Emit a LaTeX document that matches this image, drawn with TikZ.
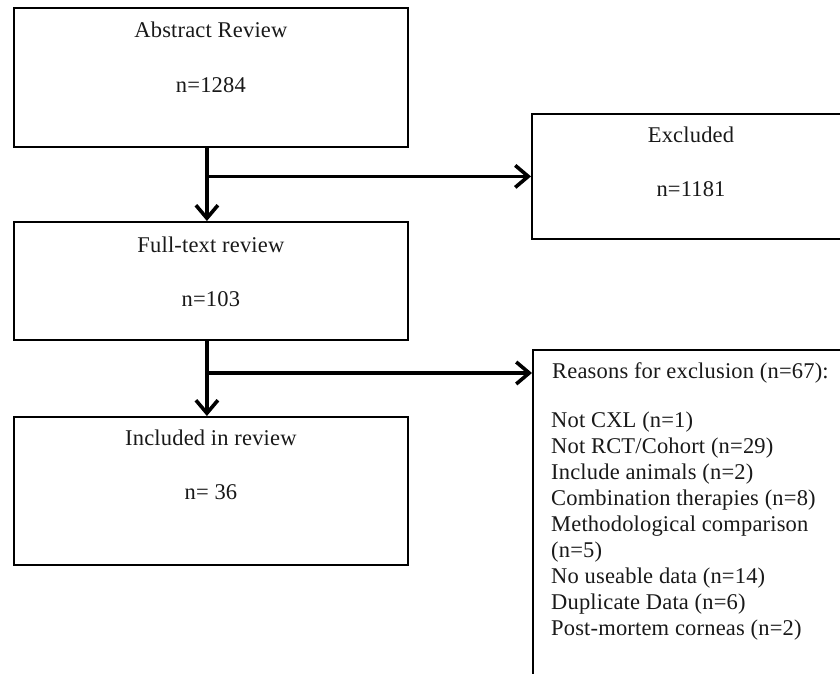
\documentclass[tikz,border=0pt]{standalone}
\usepackage{fontspec}
\setmainfont[LetterSpace=0.8]{Liberation Serif}
\usetikzlibrary{arrows.meta,positioning}
\begin{document}
\begin{tikzpicture}[x=1pt,y=1pt,
  box/.style={draw=black,line width=1.8pt,rectangle,inner sep=0pt,anchor=north west},
  txt/.style={font=\fontsize{22.5}{26}\selectfont,inner sep=0pt,text=black!90},
  arr/.style={line width=3.6pt,-{Straight Barb[length=13pt,width=22pt]}},
  ln/.style={line width=3.6pt}]
\useasboundingbox (0,0) rectangle (840,-674);
\clip (0,0) rectangle (840,-674);
\fill[white] (0,0) rectangle (840,-674);
% boxes
\node[box,minimum width=394pt,minimum height=139pt] (b1) at (13,-7) {};
\node[box,minimum width=394pt,minimum height=118pt] (b2) at (13,-221) {};
\node[box,minimum width=394pt,minimum height=148pt] (b3) at (13,-416) {};
\node[box,minimum width=320pt,minimum height=125pt] (ex) at (531,-113) {};
\node[box,minimum width=330pt,minimum height=360pt] (rs) at (532,-349) {};
% texts
\node[txt] (t1a) at ([yshift=-23pt]b1.north) {Abstract Review};
\node[txt] (t1b) at ([yshift=-78pt]b1.north) {n=1284};
\node[txt] (t2a) at ([yshift=-24pt]b2.north) {Full-text review};
\node[txt] (t2b) at ([yshift=-78pt]b2.north) {n=103};
\node[txt] (t3a) at ([yshift=-22pt]b3.north) {Included in review};
\node[txt] (t3b) at ([yshift=-76pt]b3.north) {n=\ 36};
\node[txt] (tea) at (691,-135) {Excluded};
\node[txt] (teb) at (691,-189) {n=1181};
\node[txt,anchor=west] (rtitle) at (552,-373) {Reasons for exclusion (n=67):};
\node[txt,anchor=north west,align=left] (rlist) at (551,-412) {Not CXL (n=1)\\
Not RCT/Cohort (n=29)\\
Include animals (n=2)\\
Combination therapies (n=8)\\
Methodological comparison\\
(n=5)\\
No useable data (n=14)\\
Duplicate Data (n=6)\\
Post-mortem corneas (n=2)};
% connectors
\coordinate (s1) at ([xshift=-4pt]b1.south);
\coordinate (s2) at ([xshift=-4pt]b2.south);
\coordinate (j1) at (s1 |- ex.west);
\coordinate (j2) at (s2 |- rtitle.west);
\draw[arr] (s1) -- (s1 |- b2.north);
\draw[arr] (j1) -- (ex.west);
\draw[arr] (s2) -- (s2 |- b3.north);
\draw[arr] (j2) -- (rs.west |- rtitle.west);
\end{tikzpicture}
\end{document}
